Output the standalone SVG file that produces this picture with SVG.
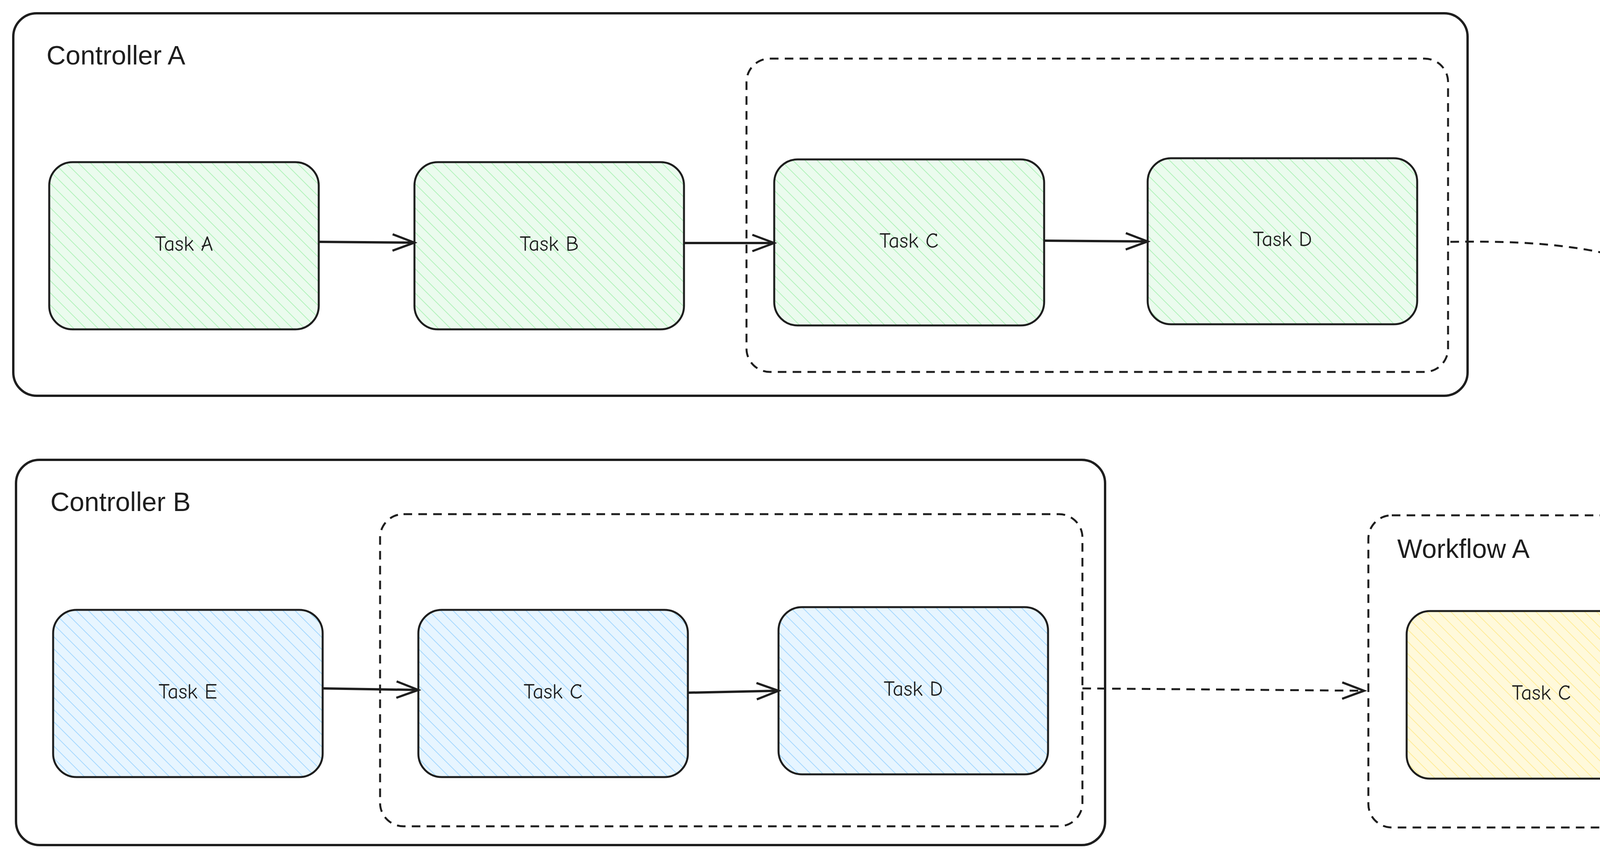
<svg xmlns="http://www.w3.org/2000/svg" width="5332" height="2191" viewBox="0 0 5332 2191">
<style>
.box{fill:none;stroke:#1e1e1e;stroke-width:6}
.dash{fill:none;stroke:#1e1e1e;stroke-width:5;stroke-dasharray:22 16}
.task{stroke:#1e1e1e;stroke-width:5}
.g{fill:url(#hg)}.b{fill:url(#hb)}.y{fill:url(#hy)}
.lbl{font-family:"Comic Neue","Liberation Sans",sans-serif;font-size:54px;fill:#1e1e1e;text-anchor:middle;dominant-baseline:middle}
.title{font-family:"Liberation Sans",sans-serif;font-size:68px;fill:#1e1e1e}
.con{fill:none;stroke:#1e1e1e;stroke-width:6}
</style>
<defs>
<pattern id="hg" width="22" height="22" patternUnits="userSpaceOnUse" patternTransform="rotate(-45)"><rect width="22" height="22" fill="#ebfbee"/><line x1="0" y1="0" x2="0" y2="22" stroke="#b2f2bb" stroke-width="4"/></pattern>
<pattern id="hb" width="22" height="22" patternUnits="userSpaceOnUse" patternTransform="rotate(-45)"><rect width="22" height="22" fill="#e7f5ff"/><line x1="0" y1="0" x2="0" y2="22" stroke="#a5d8ff" stroke-width="4"/></pattern>
<pattern id="hy" width="22" height="22" patternUnits="userSpaceOnUse" patternTransform="rotate(-45)"><rect width="22" height="22" fill="#fff9db"/><line x1="0" y1="0" x2="0" y2="22" stroke="#ffec99" stroke-width="4"/></pattern>
<marker id="ah" viewBox="0 0 20 20" refX="18" refY="10" markerWidth="70" markerHeight="70" markerUnits="userSpaceOnUse" orient="auto"><path d="M2 4 L18 10 L2 16" fill="none" stroke="#1e1e1e" stroke-width="1.6"/></marker>
</defs>
<g id="controllerA"><rect class="box" x="34" y="34" width="3723" height="979" rx="60"/><text class="title" x="119" y="165">Controller A</text></g>
<g id="groupA"><rect class="dash" x="1911" y="150" width="1796" height="802" rx="60"/></g>
<g id="controllerB"><rect class="box" x="41" y="1177" width="2788" height="986" rx="60"/><text class="title" x="129" y="1308">Controller B</text></g>
<g id="groupB"><rect class="dash" x="973" y="1316" width="1798" height="799" rx="60"/></g>
<g id="workflowA"><rect class="dash" x="3503" y="1319" width="1795" height="799" rx="60"/><text class="title" x="3577" y="1428">Workflow A</text></g>
<g id="a-taskA"><rect class="task g" x="126" y="415" width="690" height="428" rx="60"/><text class="lbl" x="471" y="629">Task A</text></g>
<g id="a-taskB"><rect class="task g" x="1061" y="415" width="690" height="428" rx="60"/><text class="lbl" x="1406" y="629">Task B</text></g>
<g id="a-taskC"><rect class="task g" x="1982" y="408" width="691" height="425" rx="60"/><text class="lbl" x="2327" y="621">Task C</text></g>
<g id="a-taskD"><rect class="task g" x="2938" y="405" width="690" height="425" rx="60"/><text class="lbl" x="3283" y="617">Task D</text></g>
<g id="b-taskE"><rect class="task b" x="136" y="1561" width="690" height="428" rx="60"/><text class="lbl" x="481" y="1775">Task E</text></g>
<g id="b-taskC"><rect class="task b" x="1071" y="1561" width="690" height="428" rx="60"/><text class="lbl" x="1416" y="1775">Task C</text></g>
<g id="b-taskD"><rect class="task b" x="1993" y="1554" width="690" height="428" rx="60"/><text class="lbl" x="2338" y="1768">Task D</text></g>
<g id="w-taskC"><rect class="task y" x="3601" y="1564" width="690" height="429" rx="60"/><text class="lbl" x="3946" y="1778">Task C</text></g>
<g id="w-taskD"><rect class="task y" x="4523" y="1557" width="690" height="429" rx="60"/><text class="lbl" x="4868" y="1771">Task D</text></g>
<g id="connectors">
<line class="con" x1="816" y1="619" x2="1061" y2="621" marker-end="url(#ah)"/>
<line class="con" x1="1751" y1="622" x2="1982" y2="622" marker-end="url(#ah)"/>
<line class="con" x1="2673" y1="616" x2="2938" y2="618" marker-end="url(#ah)"/>
<line class="con" x1="826" y1="1762" x2="1071" y2="1766" marker-end="url(#ah)"/>
<line class="con" x1="1761" y1="1773" x2="1993" y2="1768" marker-end="url(#ah)"/>
<line class="con" x1="4291" y1="1772" x2="4523" y2="1775" marker-end="url(#ah)"/>
<path class="dash" d="M3713 619 C4200 610 4546 700 4546 1275" marker-end="url(#ah)"/>
<path class="dash" d="M2771 1762 L3492 1768" marker-end="url(#ah)"/>
</g>
</svg>
